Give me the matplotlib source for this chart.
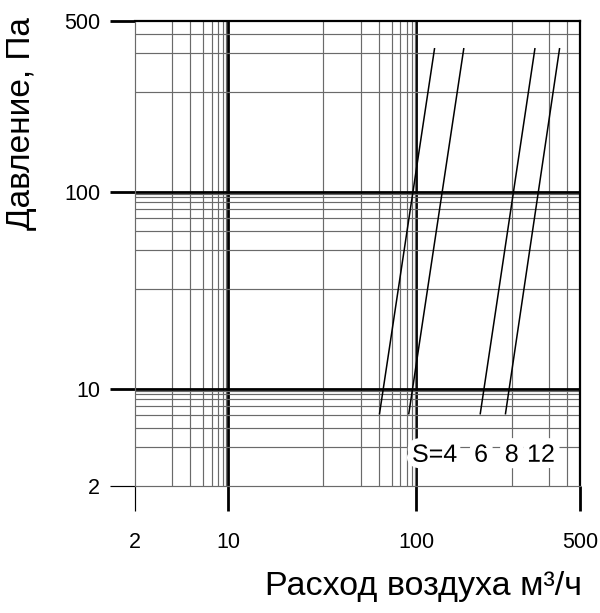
import numpy as np
import matplotlib
matplotlib.use("Agg")
import matplotlib.pyplot as plt
import matplotlib.patheffects as pe
from matplotlib.ticker import FixedLocator, FixedFormatter, NullFormatter

plt.rcParams["font.family"] = ["Liberation Sans", "DejaVu Sans"]

# values
s_labels = ["S=4", "6", "8", "12"]
flow_low = [40.5, 74, 159, 191]      # m3/h at the lower end of each line
flow_high = [114, 141, 257, 354]     # m3/h at the upper end
pressure_low = 5.1                   # Pa
pressure_high = 320                  # Pa

x_major = [2, 10, 100, 500]
x_minor = [3, 4, 5, 6, 7, 8, 9, 20, 30, 40, 50, 60, 70, 80, 90, 200, 300, 400]
y_major = [2, 10, 100, 500]
y_minor = [3, 4, 5, 6, 7, 8, 9, 20, 30, 40, 50, 60, 70, 80, 90, 200, 300, 400]

# The printed grid is a "squeezed" log grid: where 1..10 sit inside one decade.
DECADE_POS = [0, 0.506, 0.704, 0.80, 0.868, 0.914, 0.948, 0.975, 0.99]

_log_knots = []
_pos_knots = []
for d in range(-2, 5):
    for m in range(1, 10):
        _log_knots.append(d + np.log10(m))
        _pos_knots.append(d + DECADE_POS[m - 1])
_log_knots.append(5.0)
_pos_knots.append(5.0)


def fwd(v):
    v = np.asarray(v, dtype=float)
    return np.interp(np.log10(np.clip(v, 1e-9, None)), _log_knots, _pos_knots)


def inv(u):
    u = np.asarray(u, dtype=float)
    return 10 ** np.interp(u, _pos_knots, _log_knots)


fig = plt.figure(figsize=(6, 6.13), dpi=100)
ax = fig.add_axes([0.225, 0.2072, 0.7417, 0.759])

ax.set_xscale("function", functions=(fwd, inv))
ax.set_yscale("function", functions=(fwd, inv))
ax.set_xlim(2, 500)
ax.set_ylim(2, 500)

for axis, major, minor in ((ax.xaxis, x_major, x_minor), (ax.yaxis, y_major, y_minor)):
    axis.set_major_locator(FixedLocator(major))
    axis.set_major_formatter(FixedFormatter([str(v) for v in major]))
    axis.set_minor_locator(FixedLocator(minor))
    axis.set_minor_formatter(NullFormatter())

grey = "#6a6a6a"
ax.set_axisbelow(True)
ax.grid(True, which="minor", color=grey, linewidth=0.85)
ax.grid(True, which="major", color="black", linewidth=2.0)

ax.tick_params(which="major", length=18, width=2.0, direction="out",
               color="black", labelsize=15.5)
ax.tick_params(which="minor", length=0)
ax.tick_params(axis="x", which="major", pad=15)
ax.tick_params(axis="y", which="major", pad=7)

# ends of the range: the frame does the job, the "2" marks are thin grey
for axis in (ax.xaxis, ax.yaxis):
    ticks = axis.get_major_ticks()
    for t, v in zip(ticks, [2, 10, 100, 500]):
        if v in (2, 500):
            t.gridline.set_visible(False)
        if v == 2:
            t.tick1line.set_color(grey)
            t.tick1line.set_markeredgewidth(0.85)

for side in ("left", "bottom"):
    ax.spines[side].set_color(grey)
    ax.spines[side].set_linewidth(0.85)
for side in ("top", "right"):
    ax.spines[side].set_color("black")
    ax.spines[side].set_linewidth(1.6)

for lo, hi in zip(flow_low, flow_high):
    ax.plot([lo, hi], [pressure_low, pressure_high], color="black", linewidth=1.1)

# S labels under the line ends, each with a white halo
halo = [pe.withStroke(linewidth=9, foreground="white")]
for text, xpos in zip(s_labels, [0.6225, 0.762, 0.831, 0.881]):
    ax.text(xpos, 0.052, text, transform=ax.transAxes, fontsize=18,
            ha="left", va="baseline", zorder=5, path_effects=halo)

ax.set_ylabel("Давление, Па", fontsize=24, va="center")
ax.yaxis.set_label_coords(-0.254, 0.778)
ax.set_xlabel("Расход воздуха м³/ч", fontsize=24.5, ha="right", va="center")
ax.xaxis.set_label_coords(1.0045, -0.217)

fig.savefig("out.png", dpi=100)
